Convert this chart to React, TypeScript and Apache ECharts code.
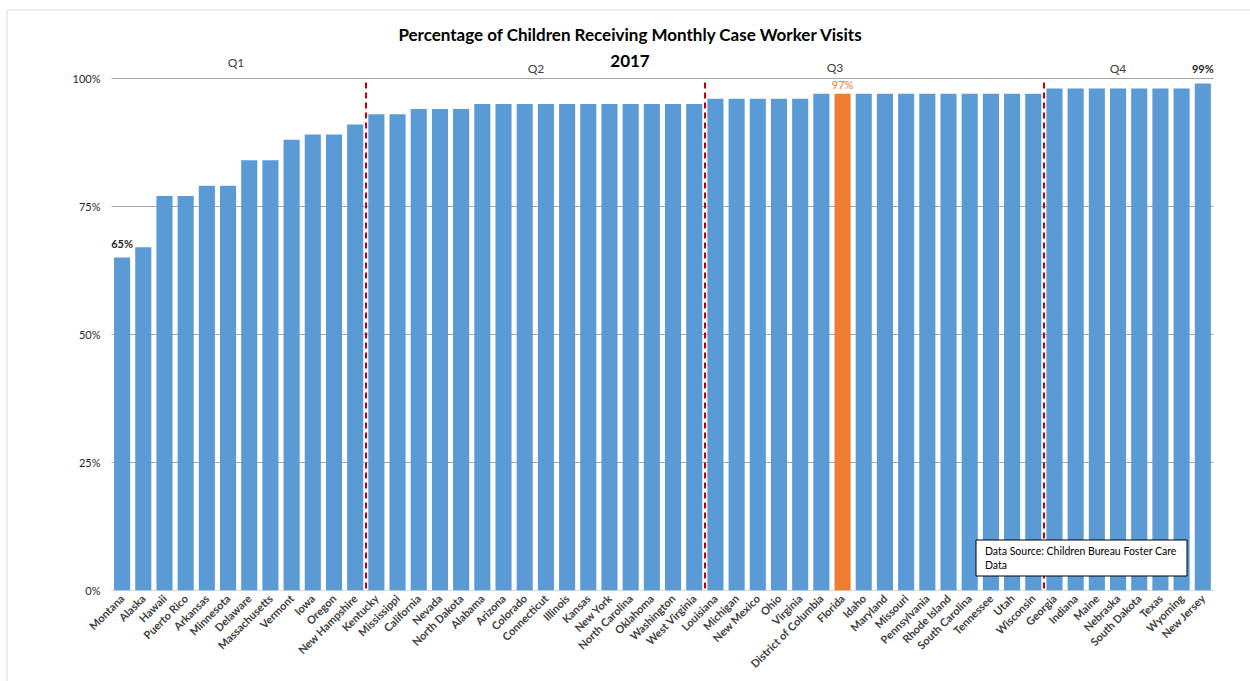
import React, { useEffect, useRef } from "react";
import * as echarts from "echarts";

const categories = [
  "Montana", "Alaska", "Hawaii", "Puerto Rico", "Arkansas", "Minnesota", "Delaware", "Massachusetts",
  "Vermont", "Iowa", "Oregon", "New Hampshire",
  "Kentucky", "Mississippi", "California", "Nevada", "North Dakota", "Alabama", "Arizona", "Colorado",
  "Connecticut", "Illinois", "Kansas", "New York", "North Carolina", "Oklahoma", "Washington", "West Virginia",
  "Louisiana", "Michigan", "New Mexico", "Ohio", "Virginia", "District of Columbia", "Florida", "Idaho",
  "Maryland", "Missouri", "Pennsylvania", "Rhode Island", "South Carolina", "Tennessee", "Utah", "Wisconsin",
  "Georgia", "Indiana", "Maine", "Nebraska", "South Dakota", "Texas", "Wyoming", "New Jersey",
];

const values = [
  65, 67, 77, 77, 79, 79, 84, 84, 88, 89, 89, 91,
  93, 93, 94, 94, 94, 95, 95, 95, 95, 95, 95, 95, 95, 95, 95, 95,
  96, 96, 96, 96, 96, 97, 97, 97, 97, 97, 97, 97, 97, 97, 97, 97,
  98, 98, 98, 98, 98, 98, 98, 99,
];

const highlighted = "Florida";
const labeledCategories = ["Montana", "Florida", "New Jersey"];
const quarterBreaks = [12, 28, 44];
const quarterLabels = ["Q1", "Q2", "Q3", "Q4"];
const yTicks = [0, 25, 50, 75, 100];

const FONT = "Lato, 'Liberation Sans', sans-serif";

export default function App() {
  const ref = useRef<HTMLDivElement>(null);
  useEffect(() => {
    document.body.style.margin = "0";
    const chart = echarts.init(ref.current!, undefined, { renderer: "svg" });
    const barData = values.map((v, i) => {
      const name = categories[i];
      const isHi = name === highlighted;
      const showLabel = labeledCategories.includes(name);
      const isLast = name === "New Jersey";
      return {
        value: v,
        itemStyle: { color: isHi ? "#ED7D31" : "#5B9BD5" },
        label: {
          show: showLabel,
          position: "top",
          distance: isHi ? 4 : isLast ? 7 : 9,
          formatter: "{c}%",
          color: isHi ? "#ED7D31" : "#262626",
          fontWeight: isHi ? "normal" : "bold",
          fontSize: 11,
          fontFamily: FONT,
          backgroundColor: isLast ? "#ffffff" : "transparent",
          padding: isLast ? [2, 4] : 0,
        },
      };
    });
    const qPos = [
      { x: 236, y: 62 },
      { x: 536, y: 68 },
      { x: 835, y: 67 },
      { x: 1118, y: 68 },
    ];
    chart.setOption({
      animation: false,
      textStyle: { fontFamily: FONT },
      grid: { left: 111.5, right: 36.6, top: 78.3, bottom: 90.7, containLabel: false },
      xAxis: [
        {
          type: "category",
          data: categories,
          axisTick: { show: false },
          axisLine: { lineStyle: { color: "#d9d9d9" } },
          axisLabel: {
            interval: 0,
            rotate: 45,
            fontSize: 11,
            fontWeight: "bold",
            color: "#404040",
            margin: 6,
            fontFamily: FONT,
          },
        },
        { type: "value", min: 0, max: categories.length, show: false },
      ],
      yAxis: {
        type: "value",
        min: 0,
        max: 100,
        interval: 25,
        axisLabel: {
          formatter: (v: number) => (yTicks.includes(v) ? `${v}%` : ""),
          fontSize: 11,
          color: "#262626",
          margin: 11,
          fontFamily: FONT,
        },
        axisLine: { show: false },
        axisTick: { show: false },
        splitLine: { lineStyle: { color: "#a6a6a6", width: 1 } },
      },
      series: [
        {
          type: "bar",
          data: barData,
          barCategoryGap: "24%",
          xAxisIndex: 0,
        },
        {
          type: "line",
          xAxisIndex: 1,
          data: [[0, 0]],
          showSymbol: false,
          lineStyle: { opacity: 0 },
          markLine: {
            silent: true,
            symbol: "none",
            label: { show: false },
            lineStyle: { color: "#C00000", type: [6, 4], width: 2 },
            data: quarterBreaks.map((b) => [
              { coord: [b, 99.2] },
              { coord: [b, 0] },
            ]),
          },
        },
      ],
      graphic: [
        {
          type: "rect",
          shape: { x: 7, y: 10, width: 1300, height: 700 },
          style: { fill: "none", stroke: "#d9d9d9", lineWidth: 1 },
          silent: true,
        },
        {
          type: "text",
          x: 630,
          y: 34,
          style: {
            text: "Percentage of Children Receiving Monthly Case Worker Visits",
            font: `bold 17px ${FONT}`,
            fill: "#000000",
            textAlign: "center",
            textVerticalAlign: "middle",
          },
        },
        {
          type: "text",
          x: 630,
          y: 60,
          style: {
            text: "2017",
            font: `bold 17px ${FONT}`,
            fill: "#000000",
            textAlign: "center",
            textVerticalAlign: "middle",
          },
        },
        ...quarterLabels.map((q, i) => ({
          type: "text",
          x: qPos[i].x,
          y: qPos[i].y,
          style: {
            text: q,
            font: `12px ${FONT}`,
            fill: "#404040",
            textAlign: "center",
            textVerticalAlign: "middle",
          },
        })),
        {
          type: "group",
          x: 976,
          y: 540,
          z: 100,
          children: [
            {
              type: "rect",
              z: 100,
              shape: { x: 0, y: 0, width: 211, height: 36 },
              style: { fill: "#ffffff", stroke: "#000000", lineWidth: 1 },
            },
            {
              type: "text",
              z: 101,
              x: 9,
              y: 11,
              style: {
                text: "Data Source: Children Bureau Foster Care",
                font: `10.5px ${FONT}`,
                fill: "#000000",
                textVerticalAlign: "middle",
              },
            },
            {
              type: "text",
              z: 101,
              x: 9,
              y: 25,
              style: {
                text: "Data",
                font: `10.5px ${FONT}`,
                fill: "#000000",
                textVerticalAlign: "middle",
              },
            },
          ],
        },
      ],
    });
    return () => chart.dispose();
  }, []);
  return <div ref={ref} style={{ width: 1250, height: 681 }} />;
}
